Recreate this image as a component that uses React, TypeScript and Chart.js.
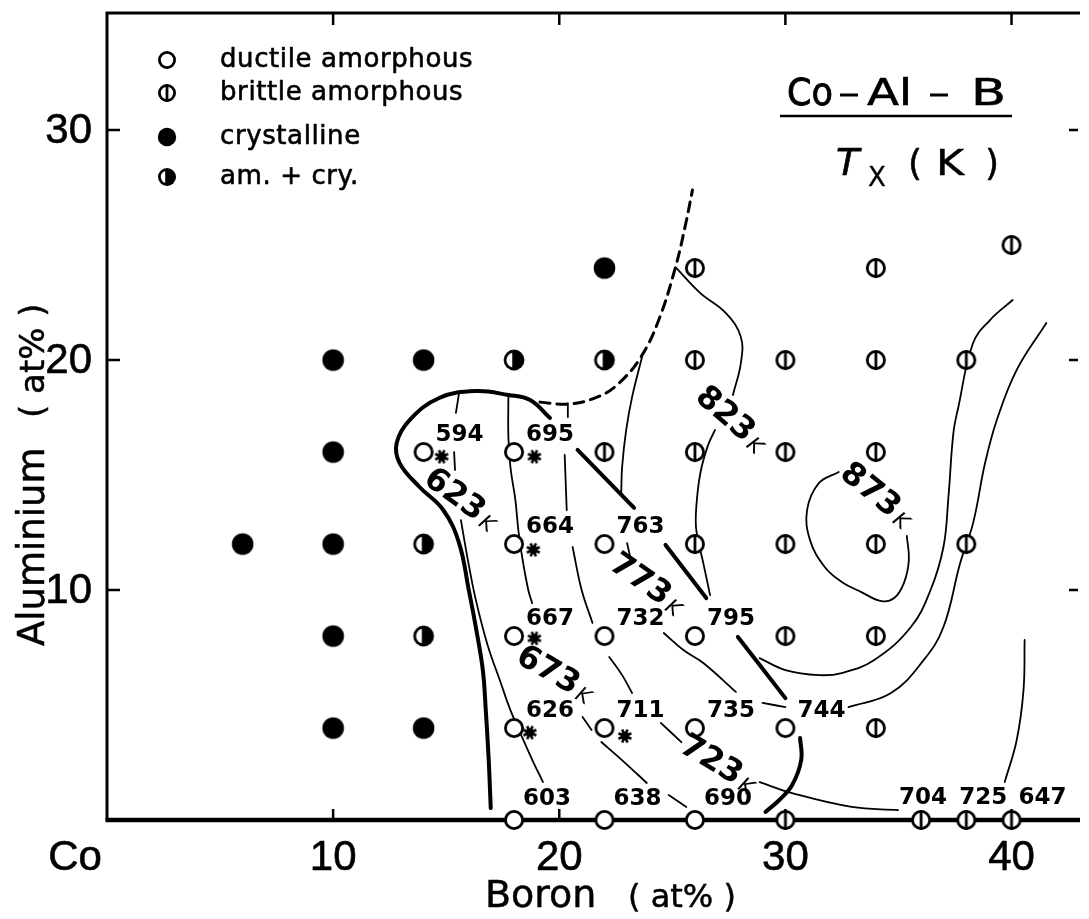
import React, { useEffect, useRef } from 'react';
import { Chart, registerables } from 'chart.js';

Chart.register(...registerables);

// ---------- axes ----------
const X_MIN = 0;
const X_MAX = 42.94;
const Y_MIN = 0;
const Y_MAX = 35.09;
const xTickValues = [10, 20, 30, 40];
const xTickLabels = ['10', '20', '30', '40'];
const yTickValues = [10, 20, 30];
const yTickLabels = ['10', '20', '30'];

// ---------- sample compositions [B at%, Al at%] ----------
const ductileAmorphous = [
  [14, 16], [18, 16], [18, 12], [22, 12], [18, 8], [22, 8], [26, 8],
  [18, 4], [22, 4], [26, 4], [30, 4], [18, 0], [22, 0], [26, 0],
];
const brittleAmorphous = [
  [26, 24], [34, 24], [40, 25], [26, 20], [30, 20], [34, 20], [38, 20],
  [22, 16], [26, 16], [30, 16], [34, 16], [26, 12], [30, 12], [34, 12], [38, 12],
  [30, 8], [34, 8], [34, 4], [30, 0], [36, 0], [38, 0], [40, 0],
];
const crystalline = [
  [22, 24], [10, 20], [14, 20], [10, 16], [6, 12], [10, 12], [10, 8], [10, 4], [14, 4],
];
const amPlusCry = [[18, 20], [22, 20], [14, 12], [14, 8]];
const starMarks = [[14.8, 15.8], [18.9, 15.8], [18.85, 11.75], [18.9, 7.9], [18.7, 3.8], [22.9, 3.65]];

// ---------- crystallization temperatures Tx (K) at [B, Al] ----------
const txB = [14, 18, 18, 22, 18, 22, 26, 18, 22, 26, 30, 18, 22, 26, 36, 38, 40];
const txAl = [16, 16, 12, 12, 8, 8, 8, 4, 4, 4, 4, 0, 0, 0, 0, 0, 0];
const txValues = [594, 695, 664, 763, 667, 732, 795, 626, 711, 735, 744, 603, 638, 690, 704, 725, 647];

// ---------- iso-Tx contour lines (null = gap) ----------
type P = number[] | null;
const iso623: P[] = [
  [15.57, 18.57], [15.43, 17.7], null,
  [15.35, 16.0], [15.39, 15.22], null,
  [15.65, 13.04], [15.96, 11.3], [16.31, 9.57], [16.83, 7.61], [17.4, 6.0], [17.84, 4.78],
  [18.41, 3.48], [18.85, 2.52], [19.28, 1.65],
];
const iso673: P[] = [
  [17.75, 18.48], [17.75, 16.65], [17.84, 15.35], [18.06, 13.91], [18.19, 12.61],
  [18.36, 11.43], [18.63, 10.0], [18.8, 9.43], null,
  [21.03, 4.48], [21.43, 3.91], null,
  [21.86, 3.39], [22.87, 2.52], [23.87, 1.61], null,
  [24.84, 1.09], [25.62, 0.57],
];
const iso723: P[] = [
  [20.24, 15.87], [20.33, 13.48], null,
  [20.59, 11.87], [20.99, 10.0], [21.47, 8.57], null,
  [22.21, 7.09], [22.78, 6.3], [23.22, 5.52], null,
  [24.49, 4.22], [25.4, 3.39], null,
  [28.86, 1.65], [30.3, 1.17], [32.93, 0.57], [34.98, 0.43],
];
const iso773: P[] = [
  [23.66, 20.13], [23.22, 18.39], [22.96, 16.96], [22.78, 15.35], [22.74, 14.22], null,
  [23.0, 12.04], [23.17, 11.3], null,
  [24.62, 8.13], [25.49, 7.39], [26.37, 6.83], [27.81, 5.57], null,
  [28.99, 5.09], [30.0, 4.91], null,
  [32.79, 4.91], [34.67, 5.52], [36.12, 6.96], [36.99, 8.39], [37.73, 11.17],
  [38.3, 12.91], [38.83, 15.52], [39.35, 17.39], [40.23, 19.57], [41.54, 21.61],
];
const iso823: P[] = [
  [25.14, 24.04], [26.24, 22.91], [27.37, 22.04], [28.03, 21.0], [28.03, 19.87], [27.68, 18.48], null,
  [26.89, 16.96], [26.58, 16.3], [26.24, 15.09], [26.06, 13.61], [26.06, 12.61],
  [26.37, 11.17], [26.67, 9.78], null,
  [28.86, 7.04], [30.0, 6.52], [31.48, 6.3], [32.49, 6.39], [33.93, 6.96], [35.55, 8.39],
  [36.42, 10.0], [36.99, 11.87], [37.21, 14.04], [37.43, 16.83], [37.65, 17.96],
  [38.3, 20.74], [39.05, 21.74], [40.05, 22.61],
];
const iso873: P[] = [
  [32.36, 15.13], [31.48, 14.65], [30.96, 13.48], [31.09, 12.17], [31.74, 11.0], [32.49, 10.35],
  [33.36, 9.91], [34.24, 9.52], [34.81, 9.65], [35.24, 10.3], [35.46, 11.3], [35.37, 12.35],
];
const isoRight: P[] = [[40.58, 7.83], [40.53, 5.65], [40.23, 3.48], [39.7, 1.65]];

// glass-forming boundary (thick), ductile/brittle boundary segments (thick), dashed limit
const glassBoundary: P[] = [
  [19.59, 17.48], [18.71, 18.26], [17.75, 18.48], [16.31, 18.65], [14.69, 18.35], [13.38, 17.39],
  [12.81, 16.39], [12.94, 15.52], [13.82, 14.48], [14.87, 13.48], [15.57, 12.04], [16.0, 10.0],
  [16.31, 8.39], [16.62, 6.52], [16.75, 4.78], [16.88, 2.61], [16.97, 0.52],
];
const ductileBrittle1: P[] = [[20.81, 16.09], [23.31, 13.57]];
const ductileBrittle2: P[] = [[24.7, 11.96], [26.5, 9.65]];
const ductileBrittle3: P[] = [[27.9, 7.96], [30.0, 5.3]];
const ductileBrittle4: P[] = [[30.65, 3.57], [30.7, 2.61], [30.3, 1.52], [29.73, 0.87], [29.12, 0.35]];
const dashedLimit: P[] = [
  [19.15, 18.17], [20.46, 18.09], [21.78, 18.43], [22.65, 19.0], [23.61, 20.13],
  [24.4, 21.74], [25.14, 24.04], [25.58, 25.87], [25.89, 27.39],
];
const dashTick: P[] = [[20.38, 18.13], [20.38, 17.52]];

// ---------- contour labels ----------
const isoLabelText = ['623', '673', '723', '773', '823', '873'];
const isoLabelB = [15.65, 19.81, 27.02, 23.87, 27.59, 34.02];
const isoLabelAl = [13.91, 6.3, 2.39, 10.22, 17.39, 14.09];
const isoLabelAngle = [36, 30, 31, 35, 41, 39];

const legendLabels = ['ductile amorphous', 'brittle amorphous', 'crystalline', 'am. + cry.'];
const legendKinds = ['open', 'brittle', 'filled', 'half'];

const SANS = '"DejaVu Sans", "Noto Sans", sans-serif';
const ARIAL = '"Liberation Sans", Arial, sans-serif';

function drawMarker(ctx: CanvasRenderingContext2D, kind: string, cx: number, cy: number, r: number) {
  ctx.save();
  ctx.strokeStyle = '#000';
  ctx.fillStyle = '#000';
  ctx.lineWidth = 2.8;
  if (kind === 'filled') {
    ctx.beginPath();
    ctx.arc(cx, cy, r + 1.6, 0, Math.PI * 2);
    ctx.fill();
  } else if (kind === 'half') {
    ctx.beginPath();
    ctx.arc(cx, cy, r + 1.4, 0, Math.PI * 2);
    ctx.fill();
    ctx.save();
    ctx.beginPath();
    ctx.arc(cx, cy, r - 1.4, 0, Math.PI * 2);
    ctx.clip();
    ctx.fillStyle = '#fff';
    ctx.fillRect(cx - r - 2, cy - r - 2, r + 2 - 1.8, 2 * r + 4);
    ctx.restore();
  } else {
    ctx.beginPath();
    ctx.arc(cx, cy, r, 0, Math.PI * 2);
    ctx.fillStyle = '#fff';
    ctx.fill();
    ctx.stroke();
    if (kind === 'brittle') {
      ctx.beginPath();
      ctx.moveTo(cx, cy - r - 1.4);
      ctx.lineTo(cx, cy + r + 1.4);
      ctx.stroke();
    }
  }
  ctx.restore();
}

function makeMarker(kind: string, r: number): HTMLCanvasElement {
  const size = Math.ceil(2 * r + 10);
  const c = document.createElement('canvas');
  c.width = size;
  c.height = size;
  const ctx = c.getContext('2d')!;
  drawMarker(ctx, kind, size / 2, size / 2, r);
  return c;
}

function makeStar(): HTMLCanvasElement {
  const size = 20;
  const c = document.createElement('canvas');
  c.width = size;
  c.height = size;
  const ctx = c.getContext('2d')!;
  const m = size / 2;
  ctx.fillStyle = '#000';
  ctx.strokeStyle = '#000';
  ctx.beginPath();
  ctx.arc(m, m, 4.4, 0, Math.PI * 2);
  ctx.fill();
  ctx.lineWidth = 2.6;
  for (let k = 0; k < 8; k++) {
    const a = (k * Math.PI) / 4 + Math.PI / 8;
    ctx.beginPath();
    ctx.moveTo(m, m);
    ctx.lineTo(m + Math.cos(a) * 7, m + Math.sin(a) * 7);
    ctx.stroke();
  }
  return c;
}

function toPts(arr: P[]) {
  let last = 0;
  return arr.map((p) => {
    if (p) {
      last = p[0];
      return { x: p[0], y: p[1] };
    }
    return { x: last, y: null as any };
  });
}

function lineDs(arr: P[], width: number, dash: number[] = []) {
  return {
    type: 'line' as const,
    data: toPts(arr),
    borderColor: '#000',
    borderWidth: width,
    borderDash: dash,
    pointRadius: 0,
    fill: false,
    tension: 0.4,
    spanGaps: false,
    clip: false as any,
    order: 3,
    borderCapStyle: 'round' as const,
  };
}

function markerDs(arr: number[][], style: HTMLCanvasElement, order: number) {
  return {
    type: 'line' as const,
    data: arr.map((p) => ({ x: p[0], y: p[1] })),
    showLine: false,
    pointStyle: style as any,
    pointRadius: 10,
    pointHoverRadius: 10,
    clip: false as any,
    order,
  };
}

function boldText(ctx: CanvasRenderingContext2D, t: string, x: number, y: number, w: number) {
  ctx.lineWidth = w;
  ctx.lineJoin = 'round';
  ctx.strokeText(t, x, y);
  ctx.fillText(t, x, y);
}

// draw text stretched horizontally to span [x0, x1]
function spanText(ctx: CanvasRenderingContext2D, t: string, x0: number, x1: number, y: number, w: number) {
  const tw = ctx.measureText(t).width;
  const s = (x1 - x0) / tw;
  ctx.save();
  ctx.translate(x0, y);
  ctx.scale(s, 1);
  ctx.lineWidth = w / s;
  ctx.lineJoin = 'round';
  ctx.strokeText(t, 0, 0);
  ctx.fillText(t, 0, 0);
  ctx.restore();
}

const decor = {
  id: 'decor',
  beforeDatasetsDraw(chart: any) {
    const { ctx, chartArea: a, scales } = chart;
    const xs = scales.x;
    const ys = scales.y;
    ctx.save();
    ctx.strokeStyle = '#000';
    ctx.lineCap = 'butt';
    ctx.lineWidth = 3;
    ctx.beginPath();
    ctx.moveTo(a.left, a.bottom);
    ctx.lineTo(a.left, a.top);
    ctx.lineTo(a.right + 2, a.top);
    ctx.stroke();
    ctx.lineWidth = 4.5;
    ctx.beginPath();
    ctx.moveTo(a.left - 1.5, a.bottom);
    ctx.lineTo(a.right + 2, a.bottom);
    ctx.stroke();
    ctx.lineWidth = 2.5;
    for (const v of xTickValues) {
      const px = xs.getPixelForValue(v);
      ctx.beginPath();
      ctx.moveTo(px, a.bottom);
      ctx.lineTo(px, a.bottom - 11);
      ctx.moveTo(px, a.top);
      ctx.lineTo(px, a.top + 12);
      ctx.stroke();
    }
    for (const v of yTickValues) {
      const py = ys.getPixelForValue(v);
      ctx.beginPath();
      ctx.moveTo(a.left, py);
      ctx.lineTo(a.left + 13, py);
      ctx.moveTo(a.right, py);
      ctx.lineTo(a.right - 9, py);
      ctx.stroke();
    }
    ctx.restore();
  },
  afterDatasetsDraw(chart: any) {
    const { ctx, chartArea: a, scales } = chart;
    const xs = scales.x;
    const ys = scales.y;
    ctx.save();
    ctx.fillStyle = '#000';
    ctx.strokeStyle = '#000';

    // tick labels
    ctx.font = `42px ${ARIAL}`;
    ctx.textAlign = 'right';
    ctx.textBaseline = 'middle';
    yTickValues.forEach((v, i) => boldText(ctx, yTickLabels[i], a.left - 15, ys.getPixelForValue(v) + 1, 0.6));
    ctx.textAlign = 'center';
    xTickValues.forEach((v, i) => boldText(ctx, xTickLabels[i], xs.getPixelForValue(v), 858, 0.6));
    boldText(ctx, 'Co', xs.getPixelForValue(0) - 32, 858, 0.6);

    // axis titles
    ctx.textAlign = 'left';
    ctx.textBaseline = 'alphabetic';
    ctx.font = `38px ${SANS}`;
    boldText(ctx, 'Boron', 485, 907, 0.5);
    ctx.font = `32px ${SANS}`;
    boldText(ctx, '( at% )', 628, 907, 0.5);

    ctx.save();
    ctx.translate(44, 646);
    ctx.rotate(-Math.PI / 2);
    ctx.font = `37px ${SANS}`;
    boldText(ctx, 'Aluminium', 0, 0, 0.5);
    ctx.font = `34px ${SANS}`;
    boldText(ctx, '( at% )', 228, 0, 0.5);
    ctx.restore();

    // legend
    const legY = [60, 93, 137, 177];
    ctx.font = `26px ${SANS}`;
    (ctx as any).letterSpacing = '0.6px';
    legendLabels.forEach((t, i) => {
      drawMarker(ctx, legendKinds[i], 167, legY[i], 7.6);
      ctx.fillStyle = '#000';
      ctx.strokeStyle = '#000';
      boldText(ctx, t, 220, legY[i] + 7, 0.6);
    });
    (ctx as any).letterSpacing = '0px';

    // title
    ctx.font = `38px ${SANS}`;
    spanText(ctx, 'Co', 787, 833, 105, 0.8);
    spanText(ctx, 'Al', 867, 912, 105, 0.8);
    spanText(ctx, 'B', 971, 1006, 105, 0.8);
    ctx.lineWidth = 3;
    ctx.beginPath();
    ctx.moveTo(840, 95);
    ctx.lineTo(858, 95);
    ctx.moveTo(930, 95);
    ctx.lineTo(948, 95);
    ctx.stroke();
    ctx.lineWidth = 2.5;
    ctx.beginPath();
    ctx.moveTo(780, 116);
    ctx.lineTo(1012, 116);
    ctx.stroke();
    ctx.font = `italic 38px ${SANS}`;
    boldText(ctx, 'T', 836, 175, 0.6);
    ctx.font = `26px ${SANS}`;
    boldText(ctx, 'X', 868, 186, 0.4);
    ctx.font = `36px ${SANS}`;
    boldText(ctx, '(', 908, 175, 0.5);
    spanText(ctx, 'K', 936, 964, 175, 0.5);
    boldText(ctx, ')', 985, 175, 0.5);

    // Tx values
    ctx.font = `bold 23px ${SANS}`;
    ctx.textAlign = 'center';
    ctx.textBaseline = 'middle';
    const nudge: Record<number, number[]> = { 704: [2, -22], 725: [17, -22], 647: [31, -22] };
    txValues.forEach((v, i) => {
      const px = xs.getPixelForValue(txB[i]);
      const py = ys.getPixelForValue(txAl[i]);
      const off = nudge[v] || (txAl[i] === 0 ? [33, -21] : [36, -17]);
      ctx.fillText(String(v), px + off[0], py + off[1]);
    });

    // contour labels
    isoLabelText.forEach((t, i) => {
      const px = xs.getPixelForValue(isoLabelB[i]);
      const py = ys.getPixelForValue(isoLabelAl[i]);
      ctx.save();
      ctx.translate(px, py);
      ctx.rotate((isoLabelAngle[i] * Math.PI) / 180);
      ctx.textAlign = 'left';
      ctx.textBaseline = 'middle';
      ctx.font = `bold 32px ${SANS}`;
      const w1 = ctx.measureText(t).width;
      ctx.font = `italic 21px ${SANS}`;
      const w2 = ctx.measureText('K').width;
      const start = -(w1 + w2 + 3) / 2;
      ctx.font = `bold 32px ${SANS}`;
      ctx.fillText(t, start, 0);
      ctx.font = `italic 21px ${SANS}`;
      ctx.fillText('K', start + w1 + 3, 5);
      ctx.restore();
    });

    ctx.restore();
  },
};

export default function App() {
  const ref = useRef<HTMLCanvasElement | null>(null);
  useEffect(() => {
    if (!ref.current) return;
    const openM = makeMarker('open', 8.6);
    const brittleM = makeMarker('brittle', 8.6);
    const filledM = makeMarker('filled', 9.2);
    const halfM = makeMarker('half', 9.0);
    const starM = makeStar();
    const chart = new Chart(ref.current, {
      type: 'line',
      data: {
        datasets: [
          markerDs(starMarks, starM, 0),
          markerDs(ductileAmorphous, openM, 1),
          markerDs(brittleAmorphous, brittleM, 1),
          markerDs(crystalline, filledM, 1),
          markerDs(amPlusCry, halfM, 1),
          lineDs(iso623, 1.8),
          lineDs(iso673, 1.8),
          lineDs(iso723, 1.8),
          lineDs(iso773, 1.8),
          lineDs(iso823, 1.8),
          lineDs(iso873, 1.8),
          lineDs(isoRight, 1.8),
          lineDs(glassBoundary, 4),
          lineDs(ductileBrittle1, 4),
          lineDs(ductileBrittle2, 4),
          lineDs(ductileBrittle3, 4),
          lineDs(ductileBrittle4, 4),
          lineDs(dashedLimit, 3, [10, 7]),
          lineDs(dashTick, 1.8),
        ] as any,
      },
      options: {
        responsive: false,
        animation: false,
        events: [],
        layout: { padding: { left: 107, top: 13, right: 0, bottom: 99 } },
        scales: {
          x: { type: 'linear', min: X_MIN, max: X_MAX, display: false },
          y: { type: 'linear', min: Y_MIN, max: Y_MAX, display: false },
        },
        plugins: { legend: { display: false }, tooltip: { enabled: false } },
      },
      plugins: [decor],
    });
    return () => chart.destroy();
  }, []);
  return (
    <div style={{ position: 'fixed', left: 0, top: 0, width: 1089, height: 919, background: '#fff' }}>
      <canvas ref={ref} width={1089} height={919} style={{ display: 'block' }} />
    </div>
  );
}
